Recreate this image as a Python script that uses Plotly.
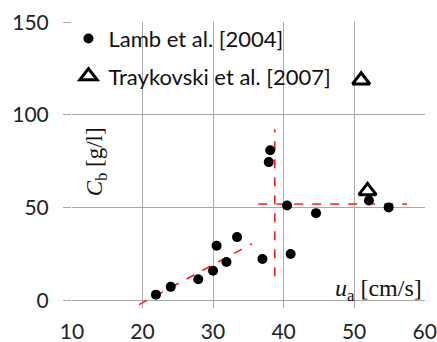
import plotly.graph_objects as go

# Lamb et al. [2004] observations
lamb_u = [21.9, 24.0, 27.9, 30.0, 30.5, 31.9, 33.4, 37.0, 37.9, 38.1, 40.5, 41.0, 44.6, 52.1, 54.9]
lamb_c = [3.2, 7.4, 11.5, 16.1, 29.6, 20.8, 34.2, 22.4, 74.6, 81.0, 51.2, 25.1, 47.1, 53.9, 50.2]

# Traykovski et al. [2007] observations
tray_u = [51.0, 51.9]
tray_c = [118.7, 59.1]

# Trend guide lines (dashed red)
rise_u = [19.5, 35.5]
rise_c = [-2.2, 30.6]
jump_u = [38.75, 38.75]
jump_c = [13.1, 92.3]
plateau_u = [36.4, 57.5]
plateau_c = [52.0, 52.0]

x_ticks = [10, 20, 30, 40, 50, 60]
y_ticks = [0, 50, 100, 150]

GRID = "#a9a9a9"
RED = "#ff1a1a"
SANS = "Lato"
SERIF = "Liberation Serif"

fig = go.Figure()

for gu, gc in [(rise_u, rise_c), (jump_u, jump_c), (plateau_u, plateau_c)]:
    fig.add_trace(go.Scatter(
        x=gu, y=gc, mode="lines", showlegend=False, hoverinfo="skip",
        line=dict(color=RED, width=1.6, dash="dash"),
    ))

fig.add_trace(go.Scatter(
    x=lamb_u, y=lamb_c, mode="markers", name="Lamb et al. [2004]",
    legendgroup="lamb",
    marker=dict(symbol="circle", size=10, color="black"),
))
fig.add_trace(go.Scatter(
    x=tray_u, y=tray_c, mode="markers", name="Traykovski et al. [2007]",
    legendgroup="tray",
    marker=dict(symbol="triangle-up-open", size=15, color="black",
                line=dict(color="black", width=3)),
))

fig.update_layout(
    width=437, height=342,
    margin=dict(l=72, r=12, t=22, b=34),
    paper_bgcolor="white", plot_bgcolor="white",
    font=dict(family=SANS, size=21, color="#222"),
    legend=dict(
        x=-0.01, y=1.015, xanchor="left", yanchor="top",
        bgcolor="rgba(0,0,0,0)", font=dict(family=SANS, size=22, color="#111"),
        tracegroupgap=6, itemwidth=30,
    ),
    annotations=[
        dict(text="<i>C</i><sub>b</sub> [g/l]", xref="paper", yref="paper",
             x=0.068, y=0.51, xanchor="center", yanchor="middle",
             textangle=-90, showarrow=False,
             font=dict(family=SERIF, size=23, color="#111")),
        dict(text="<i>u</i><sub>a</sub> [cm/s]", xref="paper", yref="paper",
             x=0.997, y=0.062, xanchor="right", yanchor="middle",
             showarrow=False,
             font=dict(family=SERIF, size=24, color="#111")),
    ],
)

fig.update_xaxes(
    range=[10, 60.05], tickvals=x_ticks, ticks="", showline=False, zeroline=False,
    showgrid=True, gridcolor=GRID, gridwidth=1.3, ticklabelstandoff=9,
    automargin=False,
)
fig.update_yaxes(
    range=[-4, 150.1], tickvals=y_ticks, ticks="outside", ticklen=8,
    tickcolor=GRID, tickwidth=1.3, showline=False, zeroline=False,
    showgrid=True, gridcolor=GRID, gridwidth=1.3, ticklabelstandoff=10,
    automargin=False,
)

fig.write_html("out.html")
